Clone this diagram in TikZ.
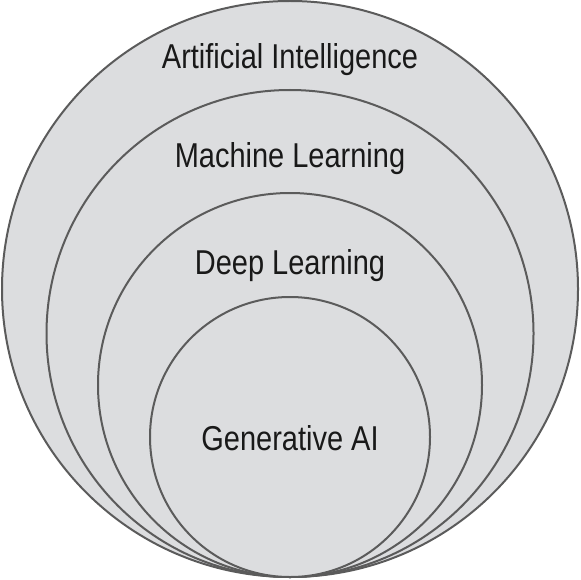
\documentclass[tikz,border=0pt]{standalone}
\usepackage{fontspec}
\setmainfont{Liberation Sans}[FakeStretch=0.84]
\definecolor{ringfill}{HTML}{DCDDDF}
\definecolor{ringline}{HTML}{5B5B5B}

\begin{document}
\begin{tikzpicture}[
    x=1pt, y=-1pt,
    ring/.style={circle, draw=ringline, line width=2pt, fill=ringfill,
        inner sep=0pt},
    label/.style={font=\fontsize{34.5}{38}\selectfont, text=black!90}
]
    \useasboundingbox (0,0) rectangle (580,580);
    \node[ring, minimum size=576pt] (ai) at (290,289) {};
    \node[ring, minimum size=487pt] (ml) at (290,333.5) {};
    \node[ring, minimum size=384pt] (dl) at (290,385) {};
    \node[ring, minimum size=280pt] (gen) at (290,437) {};
    \node[label] (ailabel) at (290,60) {Artificial Intelligence};
    \node[label] (mllabel) at (290,159) {Machine Learning};
    \node[label] (dllabel) at (290,266) {Deep Learning};
    \node[label] (genlabel) at (290,438) {Generative AI};
\end{tikzpicture}
\end{document}
